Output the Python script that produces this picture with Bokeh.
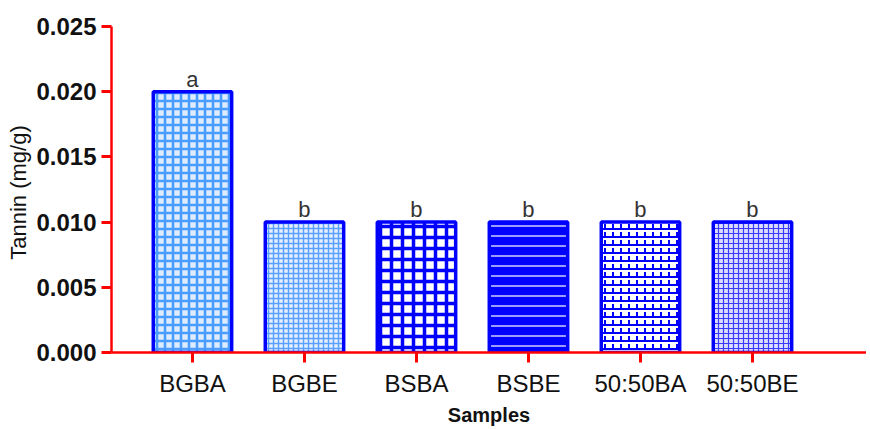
from bokeh.plotting import figure
from bokeh.models import ColumnDataSource, Range1d, FixedTicker, NumeralTickFormatter
from bokeh.embed import file_html
from bokeh.resources import INLINE
from bokeh.core.properties import value

# ---- data ----
samples = ["BGBA", "BGBE", "BSBA", "BSBE", "50:50BA", "50:50BE"]
tannin = [0.020, 0.010, 0.010, 0.010, 0.010, 0.010]
letters = ["a", "b", "b", "b", "b", "b"]
y_ticks = [0.000, 0.005, 0.010, 0.015, 0.020, 0.025]

# ---- styles ----
fills = ["#dcebff", "#e6f0ff", "#ffffff", "#0000ff", "#ffffff", "#dcdcff"]
hatch_colors = ["#4a9cff", "#5aa0ff", "#0000ff", "#9a9aff", "#0000ff", "#3a3aff"]
hatch_patterns = ["+", "+", "+", "-", "-", "+"]
hatch_scales = [8, 5, 11, 10, 8, 5]
hatch_weights = [2.6, 1.5, 3.5, 2.0, 2.0, 1.2]

xs = list(range(len(samples)))
src = ColumnDataSource(dict(x=xs, top=tannin, lab=letters, fill=fills,
                            hc=hatch_colors, hp=hatch_patterns,
                            hs=hatch_scales, hw=hatch_weights))

p = figure(width=866, height=428, output_backend="svg", toolbar_location=None,
           x_range=Range1d(-0.723, 6.018), y_range=Range1d(0, 0.025),
           min_border_left=111, min_border_right=0, min_border_top=26,
           min_border_bottom=76)

p.vbar(x="x", top="top", width=0.70, bottom=0, source=src,
       fill_color="fill", line_color=None,
       hatch_pattern="hp", hatch_color="hc", hatch_scale="hs", hatch_weight="hw")

# brick verticals for 50:50BA
brick = ColumnDataSource(dict(x=[xs[4]], top=[tannin[4]]))
p.vbar(x="x", top="top", width=0.70, bottom=0, source=brick,
       fill_color=None, line_color=None,
       hatch_pattern=":", hatch_color="#0000ff", hatch_scale=8, hatch_weight=2)

p.vbar(x="x", top="top", width=0.70, bottom=0, source=src,
       fill_color=None, line_color="#0000ff", line_width=3.5)

p.text(x="x", y="top", text="lab", source=src, text_align="center",
       text_baseline="bottom", y_offset=0, text_font=value("Liberation Sans"),
       text_font_size="22px", text_color="#333333")

p.outline_line_color = None
p.grid.grid_line_color = None

# y axis
ya = p.yaxis[0]
ya.ticker = FixedTicker(ticks=y_ticks, minor_ticks=[])
ya.formatter = NumeralTickFormatter(format="0.000")
ya.axis_line_color = "#ff0000"
ya.axis_line_width = 2.5
ya.major_tick_line_color = "#ff0000"
ya.major_tick_line_width = 3
ya.major_tick_out = 10
ya.major_tick_in = 0
ya.minor_tick_line_color = None
ya.major_label_text_font = "Liberation Sans"
ya.major_label_text_font_size = "24px"
ya.major_label_text_font_style = "bold"
ya.major_label_text_color = "#111111"
ya.major_label_standoff = 5
ya.axis_label = "Tannin  (mg/g)"
ya.axis_label_text_font = "Liberation Sans"
ya.axis_label_text_font_size = "22px"
ya.axis_label_text_font_style = "normal"
ya.axis_label_text_color = "#111111"
ya.axis_label_standoff = 2

# x axis
xa = p.xaxis[0]
xa.ticker = FixedTicker(ticks=xs, minor_ticks=[])
xa.major_label_overrides = {i: s for i, s in zip(xs, samples)}
xa.axis_line_color = "#ff0000"
xa.axis_line_width = 2.5
xa.major_tick_line_color = "#ff0000"
xa.major_tick_line_width = 3
xa.major_tick_out = 10
xa.major_tick_in = 0
xa.minor_tick_line_color = None
xa.major_label_text_font = "Liberation Sans"
xa.major_label_text_font_size = "24px"
xa.major_label_text_color = "#111111"
xa.major_label_standoff = 7
xa.axis_label = "Samples"
xa.axis_label_text_font = "Liberation Sans"
xa.axis_label_text_font_size = "20px"
xa.axis_label_text_font_style = "bold"
xa.axis_label_text_color = "#111111"
xa.axis_label_standoff = 4

open("out.html", "w").write(file_html(p, INLINE))
